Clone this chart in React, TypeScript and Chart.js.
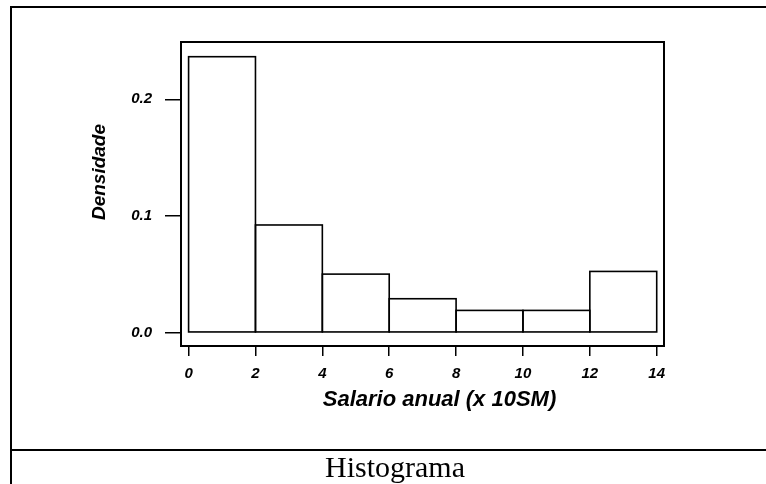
import React, { useEffect, useRef } from "react";
import { Chart, registerables } from "chart.js";

Chart.register(...registerables);

// ---- data ----
const binCenters = [1, 3, 5, 7, 9, 11, 13];
const densities = [0.2365, 0.0923, 0.0502, 0.0291, 0.0191, 0.0191, 0.0525];
const xTicks = [0, 2, 4, 6, 8, 10, 12, 14];
const yTicks = [0, 0.1, 0.2];
const xTitle = "Salario anual (x 10SM)";
const yTitle = "Densidade";
const caption = "Histograma";

const FONT = "Arial, 'Liberation Sans', Helvetica, sans-serif";

const framePlugin = {
  id: "histFrame",
  beforeDraw(chart: any) {
    const { ctx, width, height } = chart;
    ctx.save();
    ctx.fillStyle = "#fff";
    ctx.fillRect(0, 0, width, height);
    ctx.fillStyle = "#000";
    // outer table-like frame: top edge, left edge, caption separator
    ctx.fillRect(10, 6, width - 10, 2);
    ctx.fillRect(10, 6, 2, height - 6);
    ctx.fillRect(10, 449, width - 10, 2);
    ctx.restore();
  },
  afterDatasetsDraw(chart: any) {
    const { ctx, chartArea: a } = chart;
    ctx.save();
    ctx.strokeStyle = "#000";
    ctx.lineWidth = 1.6;
    const meta = chart.getDatasetMeta(0);
    meta.data.forEach((el: any) => {
      const { x, y, base, width } = el.getProps(["x", "y", "base", "width"], true);
      ctx.strokeRect(x - width / 2, y, width, base - y);
    });
    ctx.lineWidth = 2;
    ctx.strokeRect(a.left, a.top, a.right - a.left, a.bottom - a.top);

    ctx.fillStyle = "#000";
    ctx.textAlign = "center";
    ctx.textBaseline = "alphabetic";
    ctx.font = `italic bold 22px ${FONT}`;
    ctx.fillText(xTitle, (a.left + a.right) / 2 + 17, a.bottom + 60);

    ctx.font = `italic bold 19px ${FONT}`;
    ctx.translate(a.left - 76, (a.top + a.bottom) / 2 - 22);
    ctx.rotate(-Math.PI / 2);
    ctx.fillText(yTitle, 0, 0);
    ctx.restore();
  },
};

export default function App() {
  const ref = useRef<HTMLCanvasElement>(null);

  useEffect(() => {
    const tickFont = { family: FONT, size: 15, style: "italic" as const, weight: "bold" as const };
    const chart = new Chart(ref.current!, {
      type: "bar",
      data: {
        datasets: [
          {
            data: binCenters.map((x, i) => ({ x, y: densities[i] })) as any,
            backgroundColor: "#fff",
            borderWidth: 0,
            barPercentage: 1,
            categoryPercentage: 1,
          },
        ],
      },
      options: {
        responsive: false,
        maintainAspectRatio: false,
        animation: false,
        layout: { padding: { left: 0, top: 42, right: 102, bottom: 0 } },
        plugins: {
          legend: { display: false },
          tooltip: { enabled: false },
          title: { display: false },
        },
        scales: {
          x: {
            type: "linear",
            min: -0.227,
            max: 14.218,
            offset: false,
            afterBuildTicks: (s: any) => {
              s.ticks = xTicks.map((v) => ({ value: v }));
            },
            afterFit: (s: any) => {
              s.height = 138;
            },
            border: { display: false },
            grid: {
              offset: false,
              drawOnChartArea: false,
              drawTicks: true,
              tickLength: 10,
              color: "#000",
              lineWidth: 1.5,
            },
            ticks: {
              font: tickFont,
              color: "#000",
              padding: 9,
              maxRotation: 0,
              autoSkip: false,
              callback: (v: any) => String(v),
            },
          },
          y: {
            type: "linear",
            min: -0.0114,
            max: 0.2491,
            afterBuildTicks: (s: any) => {
              s.ticks = yTicks.map((v) => ({ value: v }));
            },
            afterFit: (s: any) => {
              s.width = 181;
            },
            border: { display: false },
            grid: {
              drawOnChartArea: false,
              drawTicks: true,
              tickLength: 16,
              color: "#000",
              lineWidth: 1.5,
            },
            ticks: {
              font: tickFont,
              color: "#000",
              padding: 13,
              autoSkip: false,
              callback: (v: any) => Number(v).toFixed(1),
            },
          },
        },
      },
      plugins: [framePlugin],
    });
    return () => chart.destroy();
  }, []);

  return (
    <div
      style={{
        position: "fixed",
        left: 0,
        top: 0,
        width: 766,
        height: 484,
        overflow: "hidden",
        background: "#fff",
      }}
    >
      <canvas
        ref={ref}
        width={766}
        height={484}
        style={{ position: "absolute", left: 0, top: 0, width: 766, height: 484 }}
      />
      <div
        style={{
          position: "absolute",
          left: 12,
          top: 452,
          width: 766,
          textAlign: "center",
          fontFamily: "'Times New Roman', 'Liberation Serif', serif",
          fontSize: 30,
          lineHeight: "30px",
          color: "#000",
        }}
      >
        {caption}
      </div>
    </div>
  );
}
